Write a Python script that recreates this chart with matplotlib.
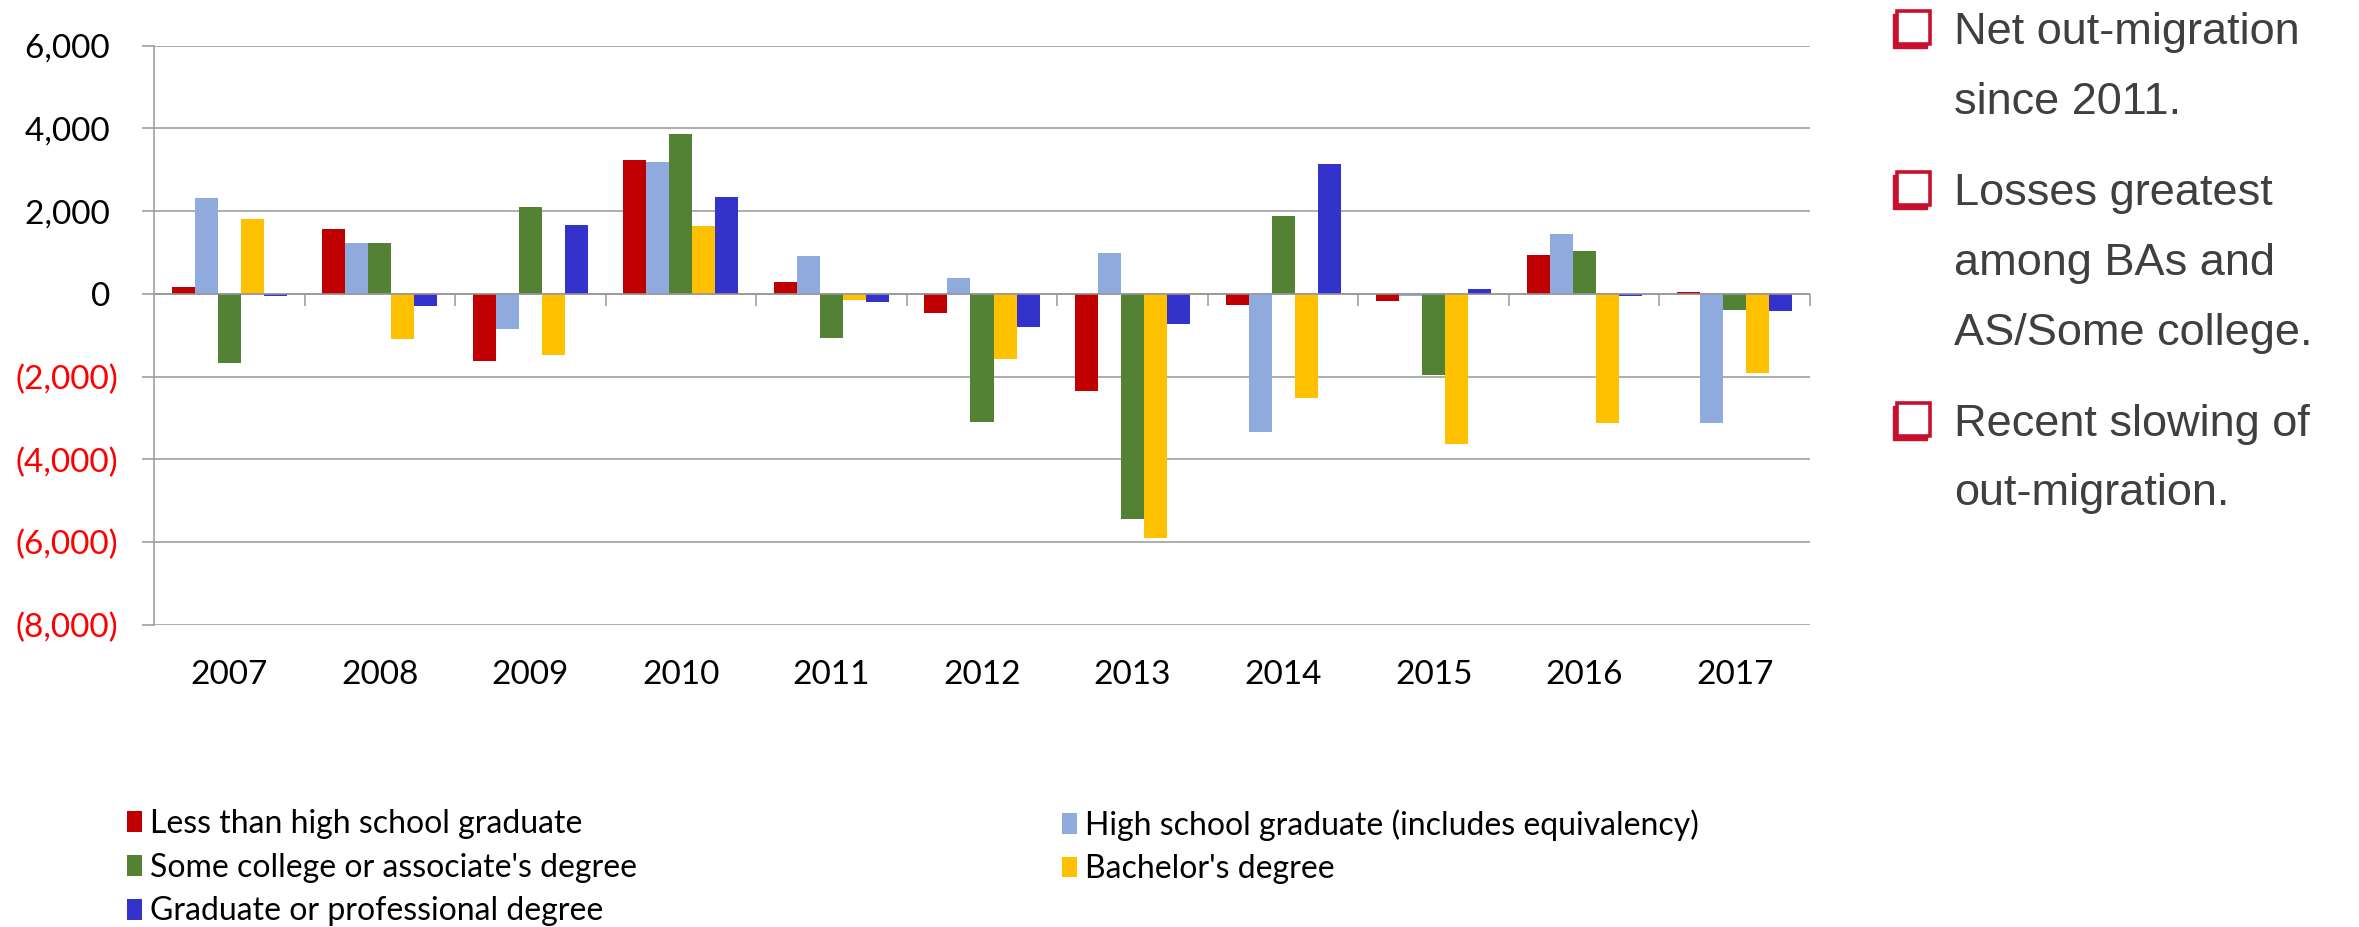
import numpy as np
import matplotlib
matplotlib.use('Agg')
import matplotlib.pyplot as plt
from matplotlib.patches import Rectangle

plt.rcParams['font.family'] = ['Lato', 'DejaVu Sans']

# data (net migration by education level)
years = ['2007', '2008', '2009', '2010', '2011', '2012', '2013', '2014', '2015', '2016', '2017']
less_hs = [170, 1580, -1610, 3240, 280, -450, -2340, -260, -170, 930, 40]
hs_grad = [2320, 1240, -850, 3190, 910, 390, 1000, -3330, -60, 1460, -3120]
some_college = [-1680, 1240, 2100, 3860, -1060, -3100, -5430, 1890, -1960, 1030, -390]
bachelor = [1820, -1090, -1470, 1650, -150, -1580, -5900, -2510, -3630, -3130, -1910]
graduate = [-50, -300, 1670, 2350, -200, -790, -730, 3150, 130, -50, -420]

series_names = ['Less than high school graduate',
                'High school graduate (includes equivalency)',
                "Some college or associate's degree",
                "Bachelor's degree",
                'Graduate or professional degree']
series_values = [less_hs, hs_grad, some_college, bachelor, graduate]
series_colors = ['#C00000', '#8FAADC', '#548235', '#FFC000', '#3333CC']

bullets = [['Net out-migration', 'since 2011.'],
           ['Losses greatest', 'among BAs and', 'AS/Some college.'],
           ['Recent slowing of', 'out-migration.']]

W, H = 2359, 927
fig = plt.figure(figsize=(W / 100, H / 100), dpi=100)
ax = fig.add_axes([154 / W, 1 - 625 / H, (1810 - 154) / W, (625 - 45.7) / H])

grid_c = '#979797'
x = np.arange(len(years))
bw = 0.153
bars = []
for i, (name, vals, col) in enumerate(zip(series_names, series_values, series_colors)):
    b = ax.bar(x + (i - 2) * bw, vals, width=bw, color=col, label=name, zorder=2)
    bars.append(b)

ax.set_xlim(-0.5, len(years) - 0.5)
ax.set_ylim(-8000, 6000)
ax.set_yticks(np.arange(-8000, 6001, 2000))
ax.yaxis.grid(True, color=grid_c, lw=1.1)
ax.set_axisbelow(True)

# zero axis line with category boundary ticks
ax.axhline(0, color=grid_c, lw=1.1, zorder=3)
bounds = np.arange(0.5, len(years))
ax.plot(bounds, np.zeros_like(bounds), ls='none', marker=3, ms=8.6, mew=1.1,
        color=grid_c, zorder=3, clip_on=False)

for s in ['top', 'right', 'bottom']:
    ax.spines[s].set_visible(False)
ax.spines['left'].set_color(grid_c)
ax.spines['left'].set_linewidth(1.1)

ax.set_xticks(x)
ax.set_xticklabels(years)
ax.tick_params(axis='x', length=0, pad=25, labelsize=24, labelcolor='black')
ax.tick_params(axis='y', length=8.6, width=1.1, color=grid_c, pad=17, labelsize=24)

ylabels = []
for v in ax.get_yticks():
    if v < 0:
        ylabels.append('({:,.0f})'.format(-v))
    else:
        ylabels.append('{:,.0f} '.format(v))
ax.set_yticklabels(ylabels)
for lab, v in zip(ax.get_yticklabels(), ax.get_yticks()):
    lab.set_color('#FF0000' if v < 0 else 'black')

# legend in two columns, row-major order like the original
leg_kw = dict(loc='upper left', frameon=False, fontsize=23, handlelength=0.47,
              handleheight=0.62, handletextpad=0.25, labelspacing=0.43,
              borderpad=0, borderaxespad=0)
fig.legend([bars[0], bars[2], bars[4]], [series_names[0], series_names[2], series_names[4]],
           bbox_to_anchor=(127 / W, 1 - 809 / H), **leg_kw)
fig.legend([bars[1], bars[3]], [series_names[1], series_names[3]],
           bbox_to_anchor=(1062 / W, 1 - 809 / H), **leg_kw)

# bullet text on the right
red = '#C8102E'
line_y = [[44, 114], [205, 275, 345], [436, 505]]
for lines, ys in zip(bullets, line_y):
    top = ys[0] - 33
    fig.patches.append(Rectangle(((1897 - 4) / W, 1 - (top + 33 + 4) / H), 34 / W, 34 / H,
                                 transform=fig.transFigure, facecolor=red, edgecolor=red))
    fig.patches.append(Rectangle((1897 / W, 1 - (top + 33) / H), 33 / W, 33 / H,
                                 transform=fig.transFigure, facecolor='white',
                                 edgecolor=red, lw=2.6))
    for txt, yy in zip(lines, ys):
        fig.text(1954 / W, 1 - yy / H, txt, fontsize=32.5, color='#3F3F3F',
                 family=['Liberation Sans', 'DejaVu Sans'], va='baseline', ha='left')

fig.savefig('out.png', dpi=100)
